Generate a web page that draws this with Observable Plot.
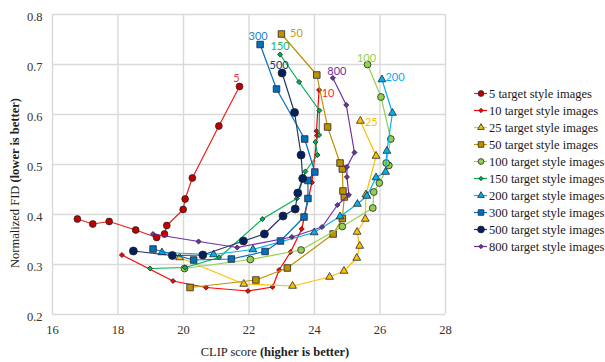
<!DOCTYPE html>
<html><head><meta charset="utf-8">
<script src="https://cdn.jsdelivr.net/npm/d3@7"></script>
<script src="https://cdn.jsdelivr.net/npm/@observablehq/plot@0.6"></script>
<style>
body{margin:0;background:#fff;}
#wrap{position:relative;width:605px;height:362px;overflow:hidden;background:#fff;}
#legend{position:absolute;left:460px;top:70px;}
</style></head><body><div id="wrap"></div>
<script>
// ---- data (CLIP score, normalized FID) ----
const seriesNames = ["5","10","25","50","100","150","200","300","500","800"];
const pts5   = [[16.76,0.391],[17.23,0.381],[17.73,0.386],[18.54,0.369],[19.18,0.354],[19.42,0.361],[19.49,0.378],[19.99,0.410],[20.05,0.431],[20.27,0.473],[21.08,0.577],[21.71,0.656]];
const pts10  = [[18.12,0.319],[19.68,0.267],[20.69,0.254],[21.97,0.247],[22.72,0.255],[22.92,0.289],[23.27,0.325],[23.61,0.371],[23.92,0.464],[24.08,0.558],[24.06,0.567],[24.14,0.649]];
const pts25  = [[19.88,0.314],[21.84,0.261],[23.33,0.257],[24.46,0.275],[24.90,0.287],[25.29,0.313],[25.38,0.337],[25.30,0.365],[25.55,0.391],[25.57,0.440],[25.88,0.517],[25.40,0.587]];
const pts50  = [[20.20,0.254],[22.21,0.269],[23.17,0.293],[24.57,0.361],[24.85,0.392],[24.91,0.435],[24.87,0.447],[24.85,0.491],[24.78,0.503],[24.40,0.575],[24.07,0.679],[22.99,0.761]];
const pts100 = [[20.03,0.292],[22.04,0.310],[23.59,0.329],[24.85,0.376],[25.78,0.413],[25.81,0.445],[25.98,0.463],[26.27,0.498],[26.19,0.503],[26.33,0.551],[26.03,0.635],[25.62,0.700]];
const pts150 = [[18.98,0.292],[20.05,0.294],[21.09,0.314],[22.41,0.391],[23.46,0.432],[23.72,0.486],[24.09,0.519],[24.03,0.545],[24.14,0.559],[24.15,0.608],[23.53,0.665],[22.95,0.720]];
const pts200 = [[19.34,0.324],[20.92,0.320],[22.12,0.330],[23.99,0.364],[24.78,0.396],[25.31,0.421],[25.60,0.437],[25.88,0.474],[26.17,0.485],[26.21,0.527],[26.38,0.603],[26.06,0.670]];
const pts300 = [[19.07,0.331],[20.31,0.309],[21.46,0.311],[22.49,0.326],[22.96,0.347],[23.68,0.395],[23.80,0.432],[23.80,0.468],[24.01,0.485],[23.70,0.551],[22.84,0.651],[22.34,0.740]];
const pts500 = [[18.47,0.327],[19.66,0.318],[20.59,0.319],[21.83,0.347],[22.47,0.361],[23.04,0.397],[23.41,0.411],[23.49,0.443],[23.64,0.472],[23.59,0.519],[23.39,0.604],[23.01,0.683]];
const pts800 = [[19.07,0.361],[20.46,0.346],[21.64,0.334],[23.31,0.355],[24.23,0.375],[24.70,0.419],[25.05,0.439],[24.99,0.475],[24.99,0.495],[25.22,0.524],[24.97,0.619],[24.56,0.673]];
const allPts = [pts5,pts10,pts25,pts50,pts100,pts150,pts200,pts300,pts500,pts800];
const xTicks = [16,18,20,22,24,26,28];
const yTicks = [0.2,0.3,0.4,0.5,0.6,0.7,0.8];

// ---- styles ----
const SERIF = "Liberation Serif";
const SANS = "Lato";
const lineColors = ["#e52420","#ff0000","#ffc000","#bf9000","#92d050","#00b050","#00b0f0","#0070c0","#203864","#7030a0"];
const fillColors = ["#c00000","#ff0000","#ffc000","#bf9000","#92d050","#00b050","#00b0f0","#0070c0","#002060","#7030a0"];
const labelColors= ["#d83a3a","#ff2a2a","#ffc000","#c79a10","#92d050","#1fb25a","#00b0f0","#2582d0","#203864","#7030a0"];
const symbols = ["circle","diamond2","triangle","square","circle","diamond2","triangle","square","circle","diamond2"];
const radii   = [3.4,2.3,2.9,3.7,3.4,2.3,2.9,3.7,4,2.3];
const labelDx = [-3, 9, 11, 15, -1, 0, 13, -2, -3, 4];
const labelDy = [-8, 3, 1, -1, -6, -8, -2, -8, -8, -7];

const rowsOf = i => allPts[i].map(([x,y],k)=>({s:seriesNames[i],x,y,k}));

const marks = [
  Plot.ruleX(xTicks,{stroke:"#d9d9d9",strokeWidth:1.4}),
  Plot.ruleY(yTicks,{stroke:"#d9d9d9",strokeWidth:1.4}),
  Plot.axisX({ticks:xTicks,tickSize:0,tickPadding:11,label:null,fontSize:12.5,fontFamily:SERIF,fill:"#333",tickFormat:d=>String(d)}),
  Plot.axisY({ticks:yTicks,tickSize:0,tickPadding:10,dy:2,label:null,fontSize:12.5,fontFamily:SERIF,fill:"#333",tickFormat:d3.format(".1f")})
];
seriesNames.forEach((name,i)=>{
  const rows = rowsOf(i);
  marks.push(Plot.line(rows,{x:"x",y:"y",stroke:lineColors[i],strokeWidth:1.2}));
  marks.push(Plot.dot(rows,{x:"x",y:"y",symbol:symbols[i],r:radii[i],fill:fillColors[i],stroke:"#262626",strokeWidth:0.8}));
});
seriesNames.forEach((name,i)=>{
  const rows = rowsOf(i);
  marks.push(Plot.text([rows[rows.length-1]],{x:"x",y:"y",text:d=>d.s,fill:labelColors[i],dx:labelDx[i],dy:labelDy[i],fontSize:11,fontFamily:SANS}));
});

const chart = Plot.plot({
  width:605,height:362,
  marginLeft:52,marginRight:160,marginTop:14,marginBottom:48,
  x:{domain:[16,28]},
  y:{domain:[0.2,0.8]},
  style:{background:"#fff"},
  marks
});
const svg = d3.select(chart);
const yt = svg.append("text").attr("transform","translate(19,183) rotate(-90)")
  .attr("text-anchor","middle").attr("font-family",SERIF)
  .attr("font-size",12.5).attr("fill","#222");
yt.append("tspan").text("Normalized FID ");
yt.append("tspan").attr("font-weight","bold").text("(lower is better)");
const xt = svg.append("text").attr("x",275).attr("y",356)
  .attr("text-anchor","middle").attr("font-family",SERIF)
  .attr("font-size",12.5).attr("fill","#222");
xt.append("tspan").text("CLIP score ");
xt.append("tspan").attr("font-weight","bold").text("(higher is better)");
document.getElementById("wrap").appendChild(chart);

// ---- legend ----
const legRows = seriesNames.map((s,i)=>({s,i,label:s+" target style images"}));
const legMarks = [];
legRows.forEach(r=>{
  legMarks.push(Plot.ruleY([r],{y:"s",x1:14,x2:27,stroke:lineColors[r.i],strokeWidth:1.2}));
  legMarks.push(Plot.dot([r],{x:20.5,y:"s",symbol:symbols[r.i],r:radii[r.i]*0.85,fill:fillColors[r.i],stroke:"#262626",strokeWidth:0.8}));
});
legMarks.push(Plot.text(legRows,{x:28.5,y:"s",text:"label",textAnchor:"start",fill:"#1a1a1a",fontSize:12.5,fontFamily:SERIF}));
const legend = Plot.plot({
  width:145,height:200,margin:0,
  x:{domain:[0,145],range:[0,145],axis:null},
  y:{type:"point",domain:seriesNames,range:[14,185],axis:null},
  style:{background:"transparent",overflow:"visible"},
  marks:legMarks
});
legend.id="legend";
document.getElementById("wrap").appendChild(legend);
</script></body></html>
